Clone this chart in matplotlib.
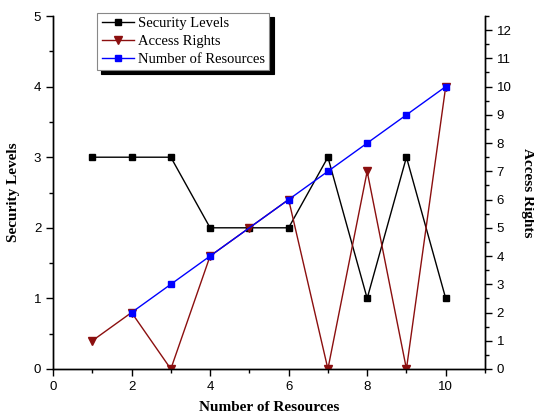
import matplotlib
matplotlib.use("Agg")
import matplotlib.pyplot as plt
from matplotlib.ticker import MultipleLocator

# data
x = [1, 2, 3, 4, 5, 6, 7, 8, 9, 10]
security = [3, 3, 3, 2, 2, 2, 3, 1, 3, 1]
access = [1, 2, 0, 4, 5, 6, 0, 7, 0, 10]
res_x = [2, 3, 4, 5, 6, 7, 8, 9, 10]
resources = [2, 3, 4, 5, 6, 7, 8, 9, 10]

tick_font = "Liberation Sans"
label_font = "Liberation Serif"

fig = plt.figure(figsize=(5.34, 4.16), dpi=100)
ax = fig.add_axes([0.0993, 0.113, 0.8089, 0.8485])
ax2 = ax.twinx()

l1, = ax.plot(x, security, "-s", color="black", lw=1.0, ms=4.5, label="Security Levels")
# blue under red so the red triangle at x=5 shows, like the original
l3, = ax2.plot(res_x, resources, "-s", color="#0000ff", lw=1.0, ms=4.5,
               markevery=[0, 1, 2, 4, 5, 6, 7, 8], label="Number of Resources", zorder=2)
l2, = ax2.plot(x, access, "-v", color="#8b0f0f", lw=1.0, ms=6, label="Access Rights",
               zorder=1.5)

ax.set_xlim(0, 11)
ax.set_ylim(0, 5)
ax2.set_ylim(0, 12.5)
ax.xaxis.set_major_locator(MultipleLocator(2))
ax.xaxis.set_minor_locator(MultipleLocator(1))
ax.yaxis.set_major_locator(MultipleLocator(1))
ax.yaxis.set_minor_locator(MultipleLocator(0.5))
ax2.yaxis.set_major_locator(MultipleLocator(1))
ax2.yaxis.set_minor_locator(MultipleLocator(0.5))

for a in (ax, ax2):
    a.spines["top"].set_visible(False)
    for s in a.spines.values():
        s.set_linewidth(1.0)
    a.tick_params(which="major", direction="out", length=5, width=1.0, labelsize=9.5)
    a.tick_params(which="minor", direction="out", length=3, width=1.0)
    for lab in a.get_xticklabels() + a.get_yticklabels():
        lab.set_fontfamily(tick_font)

ax.set_xlabel("Number of Resources", family=label_font, fontweight="bold", fontsize=11, labelpad=6)
ax.set_ylabel("Security Levels", family=label_font, fontweight="bold", fontsize=11, labelpad=10)
ax2.set_ylabel("Access Rights", family=label_font, fontweight="bold", fontsize=11,
               rotation=270, labelpad=16)

leg = ax2.legend(handles=[l1, l2, l3], loc="upper left", bbox_to_anchor=(0.182, 0.969),
                 bbox_transform=fig.transFigure, fancybox=False, framealpha=1,
                 edgecolor="#888888", prop={"family": label_font, "size": 10.5},
                 borderpad=0.3, labelspacing=0.3, handlelength=2.2, handletextpad=0.3,
                 borderaxespad=0,
                 shadow={"ox": 3, "oy": -3, "facecolor": "black", "edgecolor": "black", "alpha": 1})
leg.get_frame().set_linewidth(0.8)
leg.set_zorder(10)

fig.savefig("out.png", dpi=100)
